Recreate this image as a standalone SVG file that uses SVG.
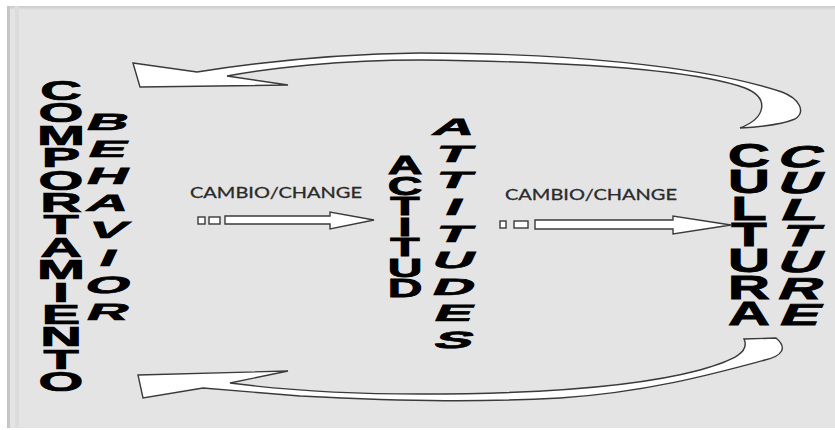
<svg xmlns="http://www.w3.org/2000/svg" width="835" height="430" viewBox="0 0 835 430">
<defs>
<style>
.up,.it{font-family:"Liberation Sans",Arial,sans-serif;font-weight:bold;fill:#000;stroke:#000;stroke-width:1.5;text-anchor:middle}
.lbl{font-family:Lato,"Open Sans",sans-serif;font-size:15.5px;fill:#2a2a2a;stroke:#2a2a2a;stroke-width:0.3}
.arr{fill:#fff;stroke:#3a3a3a;stroke-width:1.4;stroke-linejoin:miter}
</style>
<linearGradient id="topg" x1="0" y1="0" x2="0" y2="1">
<stop offset="0" stop-color="#c9c9c9"/><stop offset="1" stop-color="#e4e4e4"/>
</linearGradient>
</defs>
<rect x="0" y="0" width="835" height="430" fill="#fff"/>
<rect x="7" y="6" width="828" height="422" fill="#e4e4e4"/>
<rect x="7" y="6" width="828" height="4" fill="url(#topg)"/>
<rect x="7" y="6" width="3" height="422" fill="#c6c6c6"/>
<rect x="15" y="6" width="4" height="422" fill="#dcdcdc"/>

<g id="comportamiento" class="up" font-size="56">
<text transform="translate(61,100) scale(1.03,0.49)">C</text>
<text transform="translate(61,122.4) scale(1.03,0.49)">O</text>
<text transform="translate(61,144.8) scale(1.03,0.49)">M</text>
<text transform="translate(61,167.2) scale(1.03,0.49)">P</text>
<text transform="translate(61,189.6) scale(1.03,0.49)">O</text>
<text transform="translate(61,212) scale(1.03,0.49)">R</text>
<text transform="translate(61,234.4) scale(1.03,0.49)">T</text>
<text transform="translate(61,256.8) scale(1.03,0.49)">A</text>
<text transform="translate(61,279.2) scale(1.03,0.49)">M</text>
<text transform="translate(61,301.6) scale(1.03,0.49)">I</text>
<text transform="translate(61,324) scale(1.03,0.49)">E</text>
<text transform="translate(61,346.4) scale(1.03,0.49)">N</text>
<text transform="translate(61,368.8) scale(1.03,0.49)">T</text>
<text transform="translate(61,391.2) scale(1.03,0.49)">O</text>
</g>

<g id="behavior" class="it" font-size="52">
<text transform="translate(105,130) skewX(-25) scale(1.1,0.45)">B</text>
<text transform="translate(105,157.1) skewX(-25) scale(1.1,0.45)">E</text>
<text transform="translate(105,184.2) skewX(-25) scale(1.1,0.45)">H</text>
<text transform="translate(105,211.3) skewX(-25) scale(1.1,0.45)">A</text>
<text transform="translate(105,238.4) skewX(-25) scale(1.1,0.45)">V</text>
<text transform="translate(105,265.5) skewX(-25) scale(1.1,0.45)">I</text>
<text transform="translate(105,292.6) skewX(-25) scale(1.1,0.45)">O</text>
<text transform="translate(105,319.7) skewX(-25) scale(1.1,0.45)">R</text>
</g>

<g id="actitud" class="up" font-size="48">
<text transform="translate(405,174) scale(1,0.55)">A</text>
<text transform="translate(405,194.5) scale(1,0.55)">C</text>
<text transform="translate(405,215) scale(1,0.55)">T</text>
<text transform="translate(405,235.5) scale(1,0.55)">I</text>
<text transform="translate(405,256) scale(1,0.55)">T</text>
<text transform="translate(405,276.5) scale(1,0.55)">U</text>
<text transform="translate(405,297) scale(1,0.55)">D</text>
</g>

<g id="attitudes" class="it" font-size="52">
<text transform="translate(451,135) skewX(-25) scale(1.1,0.45)">A</text>
<text transform="translate(451,161.6) skewX(-25) scale(1.1,0.45)">T</text>
<text transform="translate(451,188.2) skewX(-25) scale(1.1,0.45)">T</text>
<text transform="translate(451,214.9) skewX(-25) scale(1.1,0.45)">I</text>
<text transform="translate(451,241.5) skewX(-25) scale(1.1,0.45)">T</text>
<text transform="translate(451,268.1) skewX(-25) scale(1.1,0.45)">U</text>
<text transform="translate(451,294.7) skewX(-25) scale(1.1,0.45)">D</text>
<text transform="translate(451,321.4) skewX(-25) scale(1.1,0.45)">E</text>
<text transform="translate(451,348) skewX(-25) scale(1.1,0.45)">S</text>
</g>

<g id="cultura" class="up" font-size="58">
<text transform="translate(749,167) scale(1,0.57)">C</text>
<text transform="translate(749,193.3) scale(1,0.57)">U</text>
<text transform="translate(749,219.6) scale(1,0.57)">L</text>
<text transform="translate(749,245.9) scale(1,0.57)">T</text>
<text transform="translate(749,272.2) scale(1,0.57)">U</text>
<text transform="translate(749,298.5) scale(1,0.57)">R</text>
<text transform="translate(749,324.8) scale(1,0.57)">A</text>
</g>

<g id="culture" class="it" font-size="54">
<text transform="translate(797,167) skewX(-25) scale(1.1,0.56)">C</text>
<text transform="translate(797,193.3) skewX(-25) scale(1.1,0.56)">U</text>
<text transform="translate(797,219.6) skewX(-25) scale(1.1,0.56)">L</text>
<text transform="translate(797,245.9) skewX(-25) scale(1.1,0.56)">T</text>
<text transform="translate(797,272.2) skewX(-25) scale(1.1,0.56)">U</text>
<text transform="translate(797,298.5) skewX(-25) scale(1.1,0.56)">R</text>
<text transform="translate(797,324.8) skewX(-25) scale(1.1,0.56)">E</text>
</g>

<g id="label1"><text class="lbl" x="190" y="198" textLength="172" lengthAdjust="spacingAndGlyphs">CAMBIO/CHANGE</text></g>
<g id="label2"><text class="lbl" x="505" y="200" textLength="172" lengthAdjust="spacingAndGlyphs">CAMBIO/CHANGE</text></g>

<g id="connectors">
<path class="arr" d="M133,63 L197,72 C260,62 340,54 420,53 C560,53 700,65 782,92 C800,99 806,112 795,119 C783,124 760,127 740,128 C766,118 770,98 745,88 C700,72 600,62 420,60 C340,60 270,68 227,76 L288,85 L140,87 Z"/>
<path class="arr" d="M138,375 L288,371 L230,383 C300,392 360,394 420,394 C540,394 640,386 700,370 C735,360 750,352 744,339 L776,338 C788,348 782,356 765,360 C720,372 650,392 560,398 C480,402 420,402 300,396 L203,388 L143,398 Z"/>
<rect class="arr" x="198" y="217" width="7" height="7"/>
<rect class="arr" x="209" y="217" width="11" height="7"/>
<path class="arr" d="M225,216 L330,216 L330,212 L374,220 L330,229 L330,224 L225,224 Z"/>
<rect class="arr" x="500" y="221" width="6" height="7"/>
<rect class="arr" x="514" y="221" width="14" height="7"/>
<path class="arr" d="M535,220 L673,220 L673,216 L731,225 L673,234 L673,229 L535,229 Z"/>
</g>
</svg>
